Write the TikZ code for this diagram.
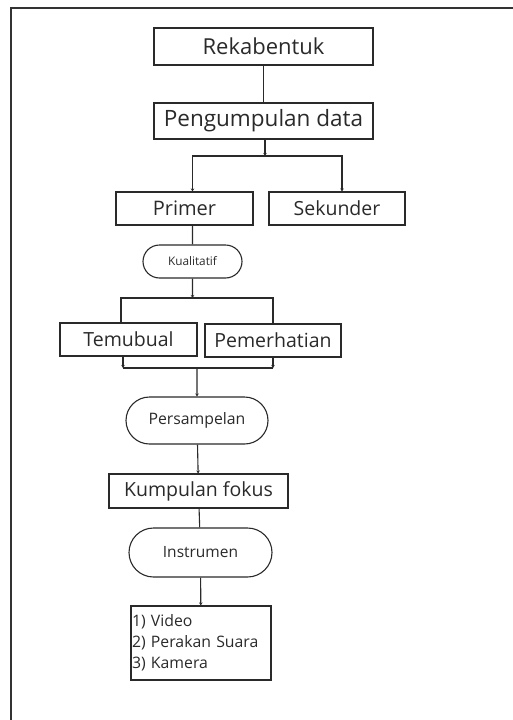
\documentclass[tikz,border=0pt]{standalone}
\usepackage{fontspec}
\setmainfont{Open Sans}
\usetikzlibrary{shapes.misc,arrows.meta}
\definecolor{ink}{HTML}{2A2A2A}
\tikzset{
  box/.style={draw=ink, line width=1.1pt, text=ink, inner sep=0pt, rectangle},
  pill/.style={draw=ink, line width=1.1pt, text=ink, inner sep=0pt, rounded rectangle},
  wire/.style={draw=ink, line width=1.1pt},
  tip/.style={wire, -{Stealth[length=3pt,width=3.5pt]}}
}

\begin{document}
\begin{tikzpicture}[x=1pt,y=-1pt]
\useasboundingbox (0,0) rectangle (513,720);

 %frame
 \draw[line width=1.8pt, black!80] (11,720) -- (11,8) -- (513,8);

 %boxes
    \foreach \name/\x/\y/\w/\h/\fs/\txt in {rek/263.5/46.5/219/37/22/Rekabentuk, peng/263.5/121/219/36/22.5/Pengumpulan data,
       primer/184.5/208.5/137/33/20/Primer, sekunder/337/208.5/136/33/19.5/Sekunder,
       temu/128.5/339.5/137/33/19.5/Temubual, pemer/273/340.5/136/33/19.5/Pemerhatian,
       kumpul/198.5/491/179/34/19.5/Kumpulan fokus}{
         \node[box, minimum width=\w pt, minimum height=\h pt, font=\fontsize{\fs}{\fs}\selectfont] (\name) at (\x,\y) {\txt};
    }

 %pills
    \foreach \name/\x/\y/\w/\h/\fs/\txt in {kual/192.5/261.5/99/33/11.8/Kualitatif, sampel/197/420.5/142/47/15.8/Persampelan,
       instr/200.5/552.5/143/49/15.5/Instrumen}{
         \node[pill, minimum width=\w pt, minimum height=\h pt, font=\fontsize{\fs}{\fs}\selectfont] (\name) at (\x,\y) {\txt};
    }

 %list
    \node[box, minimum width=140pt, minimum height=74pt, inner xsep=1pt, text width=138pt, align=left,
       font=\fontsize{15.8}{21}\selectfont] (alat) at (201,643) {1) Video\\2) Perakan Suara\\3) Kamera};

 %junctions
    \coordinate (j1) at (265,156);
    \coordinate (j2) at (192.5,298);
    \coordinate (j3) at (197,368);
    \coordinate (j3l) at (123,368);
    \coordinate (j3r) at (273,368);

 %connectors
    \draw[wire] (rek) -- (peng);
    \draw[tip] (peng.south -| j1) -- (j1);
    \draw[tip] (j1) -| (primer.north -| kual);
    \draw[tip] (j1) -| ([xshift=5pt]sekunder.north);
    \draw[wire] (primer.south -| kual) -- (kual);
    \draw[tip] (kual) -- (j2);
    \draw[wire] (j2) -| ([xshift=-7.5pt]temu.north);
    \draw[wire] (j2) -| (pemer.north);
    \draw[tip] (temu.south -| j3l) -- (j3l);
    \draw[tip] (pemer.south -| j3r) -- (j3r);
    \draw[wire] (j3l) -- (j3r);
    \draw[tip] (j3) -- (sampel);
    \draw[tip] (sampel) -- (kumpul);
    \draw[wire] (kumpul) -- (instr);
    \draw[tip] (instr) -- (alat);

\end{tikzpicture}
\end{document}
